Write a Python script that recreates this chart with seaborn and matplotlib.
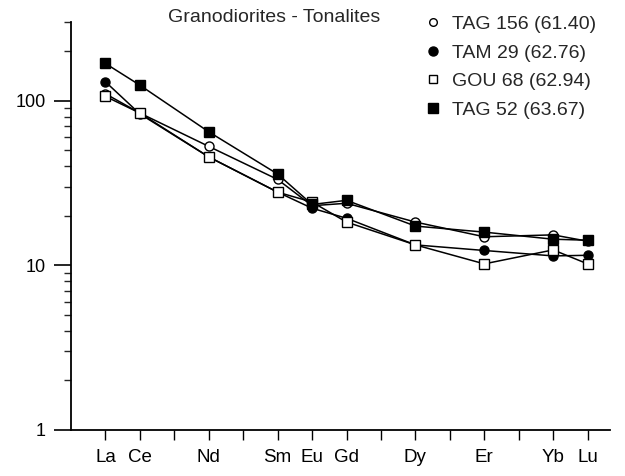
import matplotlib
matplotlib.use("Agg")
import matplotlib.pyplot as plt
import seaborn as sns
import pandas as pd
from matplotlib.lines import Line2D
from matplotlib.ticker import LogLocator, NullFormatter, FixedLocator

sns.set_style("white")
plt.rcParams['font.family'] = ['Liberation Sans', 'DejaVu Sans']

# REE positions (La..Lu, atomic order)
all_elements = ['La', 'Ce', 'Pr', 'Nd', 'Pm', 'Sm', 'Eu', 'Gd', 'Tb', 'Dy', 'Ho', 'Er', 'Tm', 'Yb', 'Lu']
elements = ['La', 'Ce', 'Nd', 'Sm', 'Eu', 'Gd', 'Dy', 'Er', 'Yb', 'Lu']

tag156 = [110, 84, 52.7, 33.2, 23.0, 23.8, 18.3, 14.9, 15.3, 14.0]
tam29 = [130, 83, 45.5, 27.8, 22.2, 19.3, 13.3, 12.3, 11.4, 11.5]
gou68 = [106, 84, 45.5, 27.8, 24.2, 18.3, 13.3, 10.2, 12.4, 10.2]
tag52 = [168, 124, 64.6, 35.8, 23.4, 24.8, 17.3, 15.9, 14.4, 14.2]

samples = ['TAG 156 (61.40)', 'TAM 29 (62.76)', 'GOU 68 (62.94)', 'TAG 52 (63.67)']
series = [tag156, tam29, gou68, tag52]
markers = ['o', 'o', 's', 's']
faces = ['white', 'black', 'white', 'black']

fig = plt.figure(figsize=(6.25, 4.76), dpi=100)
ax = fig.add_axes([71 / 625, 1 - 430 / 476, (610 - 71) / 625, (430 - 22) / 476])

pos = [all_elements.index(e) for e in elements]
for name, vals, m, fc in zip(samples, series, markers, faces):
    df = pd.DataFrame({'pos': pos, 'val': vals})
    sns.lineplot(data=df, x='pos', y='val', ax=ax, color='black', lw=1.1,
                 marker=m, markersize=6.5, markerfacecolor=fc,
                 markeredgecolor='black', markeredgewidth=1.0)

ax.set_yscale('log')
ax.set_ylim(1, 300)
ax.set_xlim(-1.0, 14.65)

ax.yaxis.set_major_locator(FixedLocator([1, 10, 100]))
ax.set_yticklabels(['1', '10', '100'])
ax.yaxis.set_minor_locator(LogLocator(base=10, subs=range(2, 10)))
ax.yaxis.set_minor_formatter(NullFormatter())

ax.set_xticks(range(len(all_elements)))
ax.set_xticklabels([e if e in elements else '' for e in all_elements])
ax.set_xlabel('')
ax.set_ylabel('')

for s in ['top', 'right']:
    ax.spines[s].set_visible(False)
for s in ['left', 'bottom']:
    ax.spines[s].set_color('black')
    ax.spines[s].set_linewidth(1.3)

ax.tick_params(axis='y', which='major', direction='out', length=12, width=1.2,
               labelsize=13, pad=6, left=True, colors='black')
ax.tick_params(axis='y', which='minor', direction='out', length=5, width=1.0, left=True)
ax.tick_params(axis='x', which='major', direction='out', length=7, width=1.0,
               labelsize=13.5, pad=6.5, bottom=True, colors='black')

fig.text(274 / 625, 1 - 17 / 476, 'Granodiorites - Tonalites', ha='center', va='center',
         fontsize=14)

handles = [Line2D([], [], ls='none', marker=m, color='black', markerfacecolor=fc,
                  markersize=5.5 if fc == 'white' else 6.5) for m, fc in zip(markers, faces)]
fig.legend(handles, samples, loc='upper left', bbox_to_anchor=(423 / 625, 1 - 15.5 / 476),
           frameon=False, fontsize=14, handlelength=1.0, handletextpad=0.5,
           labelspacing=0.56, borderaxespad=0, borderpad=0)

fig.savefig('out.png', dpi=100)
